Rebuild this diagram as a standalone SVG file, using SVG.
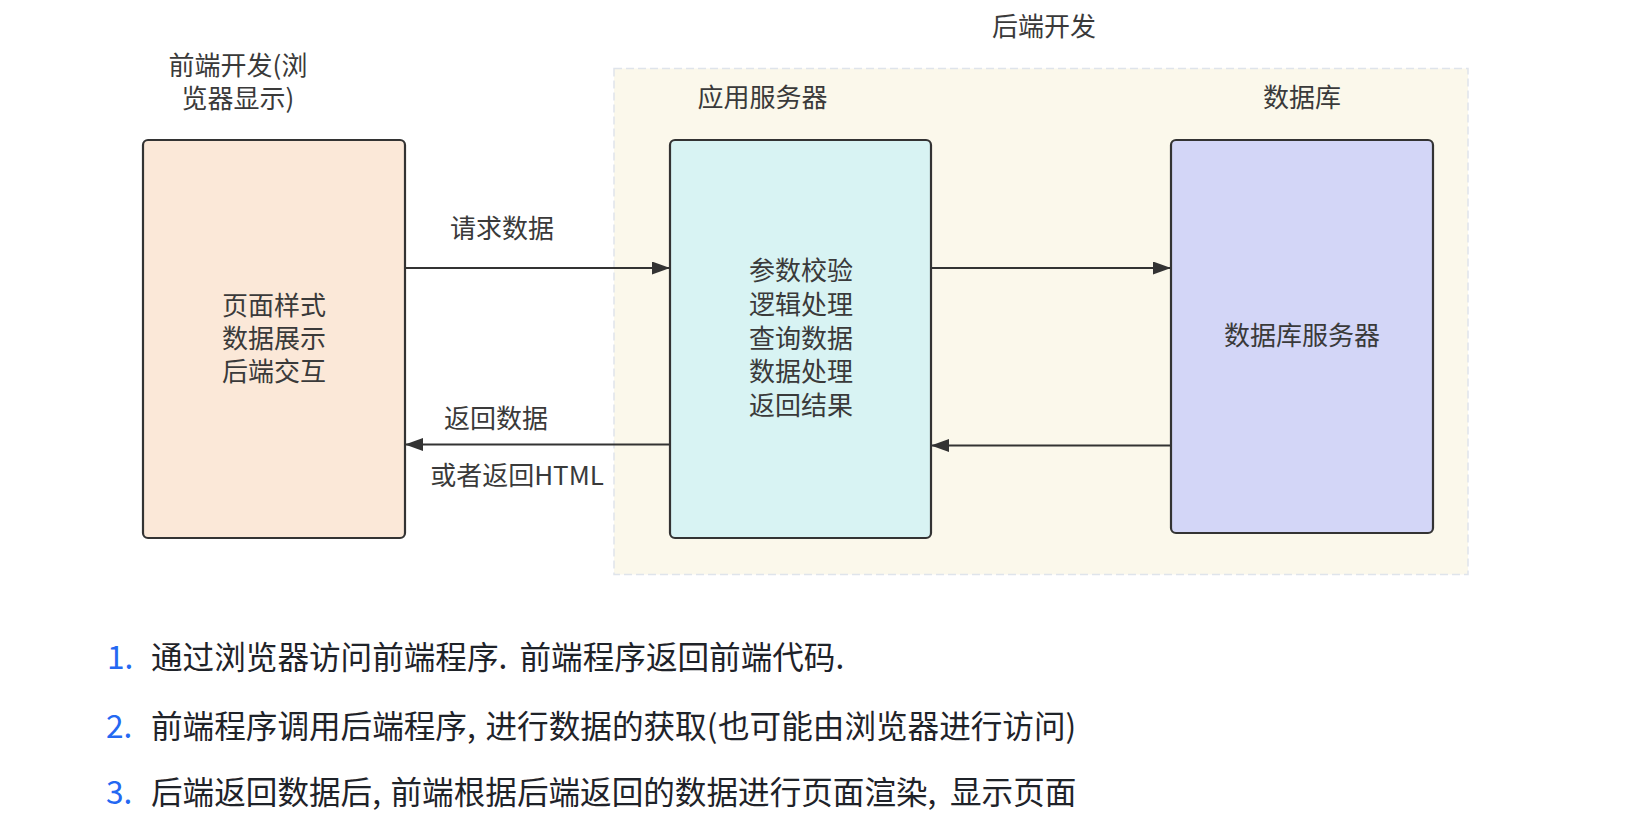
<svg xmlns="http://www.w3.org/2000/svg" width="1627" height="833" viewBox="0 0 1627 833">
  <style>
    .lbl { font-family: "Noto Sans CJK SC", "Noto Sans", sans-serif; font-size: 26px; fill: #3a3a3a; text-anchor: middle; }
    .box { stroke: #333; stroke-width: 2.2; }
    .edge { stroke: #333; stroke-width: 2; fill: none; }
    .note { font-family: "Noto Sans CJK SC", "Noto Sans", sans-serif; font-size: 31.6px; fill: #1f2329; }
    .num { fill: #2468f2; }
  </style>
  <defs>
    <marker id="arrow" viewBox="0 0 18 13" refX="18" refY="6.5" markerWidth="18" markerHeight="13" markerUnits="userSpaceOnUse" orient="auto">
      <path d="M0,0 L18,6.5 L0,13 Z" fill="#333"/>
    </marker>
  </defs>

  <rect width="1627" height="833" fill="#ffffff"/>

  <!-- backend group -->
  <g id="backend">
    <rect x="614" y="68.5" width="854" height="506" fill="#fbf8eb" stroke="#dfe4eb" stroke-width="1.5" stroke-dasharray="8 4"/>
    <text class="lbl" x="1044" y="36">后端开发</text>
    <text class="lbl" x="762.5" y="107">应用服务器</text>
    <text class="lbl" x="1302" y="107">数据库</text>
  </g>

  <!-- browser side -->
  <g id="frontend">
    <text class="lbl"><tspan x="238" y="74.5">前端开发(浏</tspan><tspan x="238" y="107.5">览器显示)</tspan></text>
    <rect class="box" x="143" y="140" width="262" height="398" rx="5" fill="#fbe8d8"/>
    <text class="lbl"><tspan x="274" y="315">页面样式</tspan><tspan x="274" y="348">数据展示</tspan><tspan x="274" y="381">后端交互</tspan></text>
  </g>

  <g id="app-server">
    <rect class="box" x="670" y="140" width="261" height="398" rx="5" fill="#d8f3f3"/>
    <text class="lbl"><tspan x="801" y="280">参数校验</tspan><tspan x="801" y="313.5">逻辑处理</tspan><tspan x="801" y="347.5">查询数据</tspan><tspan x="801" y="381">数据处理</tspan><tspan x="801" y="415">返回结果</tspan></text>
  </g>

  <g id="database">
    <rect class="box" x="1171" y="140" width="262" height="393" rx="5" fill="#d3d6f7"/>
    <text class="lbl" x="1302" y="345">数据库服务器</text>
  </g>

  <!-- connectors -->
  <g id="connectors">
    <line class="edge" x1="405" y1="268" x2="670" y2="268" marker-end="url(#arrow)"/>
    <text class="lbl" x="502" y="237.5">请求数据</text>
    <line class="edge" x1="931" y1="268" x2="1171" y2="268" marker-end="url(#arrow)"/>
    <line class="edge" x1="1171" y1="445.5" x2="931" y2="445.5" marker-end="url(#arrow)"/>
    <line class="edge" x1="670" y1="444.5" x2="405" y2="444.5" marker-end="url(#arrow)"/>
    <text class="lbl" x="496" y="428">返回数据</text>
    <text class="lbl" x="517" y="485">或者返回HTML</text>
  </g>

  <!-- numbered notes -->
  <g id="notes">
    <text class="note num" x="107" y="668.5">1.</text>
    <text class="note" y="668.5"><tspan x="151">通过浏览器访问前端程序.</tspan><tspan x="519.5">前端程序返回前端代码.</tspan></text>
    <text class="note num" x="106" y="737.5">2.</text>
    <text class="note" y="737.5"><tspan x="151">前端程序调用后端程序,</tspan><tspan x="485.5">进行数据的获取(</tspan><tspan x="718">也可能由浏览器进行访问)</tspan></text>
    <text class="note num" x="106" y="804">3.</text>
    <text class="note" y="804"><tspan x="151">后端返回数据后,</tspan><tspan x="390.5">前端根据后端返回的数据进行页面渲染,</tspan><tspan x="950">显示页面</tspan></text>
  </g>
</svg>
